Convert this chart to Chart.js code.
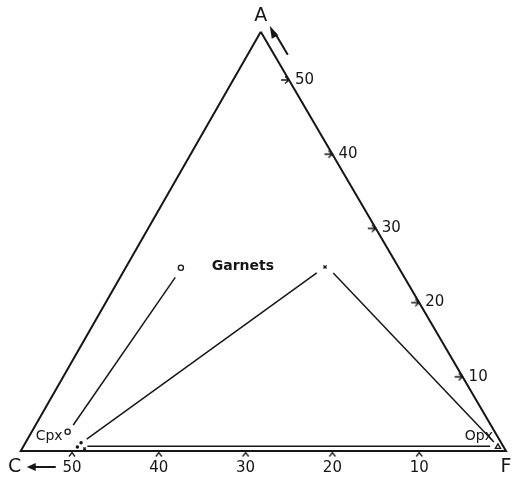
<!DOCTYPE html>
<html>
<head>
<meta charset="utf-8">
<style>
  html, body { margin: 0; padding: 0; background: #fff; }
  #wrap { width: 515px; height: 478px; }
</style>
<script src="https://cdn.jsdelivr.net/npm/chart.js@4/dist/chart.umd.min.js"></script>
</head>
<body>
<div id="wrap"><canvas id="acf" width="515" height="478"></canvas></div>
<script>
// ternary values: A and C percentages (F = rest)
const edgeA = [56.5, 0, 0, 56.5];      // A -> C -> F -> A
const edgeC = [0, 55.9, 0, 0];

const baseTicks = [10, 20, 30, 40, 50];   // C along the C-F side
const sideTicks = [10, 20, 30, 40, 50];   // A along the F-A side

const garnetA = [24.7, 24.8];
const garnetC = [25.1, 8.45];

const cpxA = [2.6];
const cpxC = [49.2];

const tie1A = [23.4, 3.5];
const tie1C = [26.4, 48.1];
const tie2A = [24.0, 1.6];
const tie2C = [9.8, 47.5];
const tie3A = [24.0, 1.2];
const tie3C = [7.9, 0.8];
const tie4A = [0.65, 0.65];
const tie4C = [47.9, 1.5];

const pyxDotsA = [1.1, 0.55];
const pyxDotsC = [48.4, 49.1];
const pyxCrossA = [0.3];
const pyxCrossC = [48.4];
const opxA = [0.55];
const opxC = [0.65];

const ink = '#161616';

function pts(aList, cList) {
    return aList.map(function(a, i) {
        return { x: cList[i] + a / 2, y: a };
    });
}

// small tick glyphs used as point styles
function glyph(w, h, draw) {
    const c = document.createElement('canvas');
    c.width = w; c.height = h;
    const g = c.getContext('2d');
    g.strokeStyle = ink;
    g.lineWidth = 1.3;
    draw(g);
    return c;
}
const baseTickGlyph = glyph(10, 14, function(g) {
    g.beginPath();
    g.moveTo(2, 12.5); g.lineTo(5, 8.5); g.lineTo(8, 12.5);
    g.stroke();
});
const sideTickGlyph = glyph(22, 10, function(g) {
    g.beginPath();
    g.moveTo(3, 5); g.lineTo(11, 5);
    g.moveTo(7, 1.5); g.lineTo(11, 5); g.lineTo(7, 8.5);
    g.stroke();
});

function line(data, width) {
    return {
        type: 'line', data: data, borderColor: ink, borderWidth: width || 1.5,
        pointRadius: 0, fill: false, tension: 0, clip: false
    };
}
function marks(data, style, radius, extra) {
    return Object.assign({
        type: 'scatter', data: data, pointStyle: style, pointRadius: radius,
        pointHoverRadius: radius, borderColor: ink, backgroundColor: '#fff',
        borderWidth: 1.3, clip: false
    }, extra || {});
}

const labelsPlugin = {
    id: 'labels',
    afterDatasetsDraw: function(chart) {
        const ctx = chart.ctx;
        const sx = chart.scales.x, sy = chart.scales.y;
        const px = function(a, c) {
            return [sx.getPixelForValue(c + a / 2), sy.getPixelForValue(a)];
        };
        ctx.save();
        ctx.fillStyle = ink;
        ctx.strokeStyle = ink;

        ctx.font = '19px "DejaVu Sans"';
        ctx.textAlign = 'center';
        ctx.textBaseline = 'middle';
        const apex = px(edgeA[0], edgeC[0]);
        ctx.fillText('A', apex[0], apex[1] - 16);
        const cv = px(edgeA[1], edgeC[1]);
        ctx.fillText('C', cv[0] - 6, cv[1] + 16);
        const fv = px(edgeA[2], edgeC[2]);
        ctx.fillText('F', fv[0], fv[1] + 16);

        // arrows
        ctx.lineWidth = 2;
        ctx.beginPath();
        ctx.moveTo(apex[0] + 27, apex[1] + 23);
        ctx.lineTo(apex[0] + 14, apex[1] + 1);
        ctx.stroke();
        ctx.beginPath();
        ctx.moveTo(apex[0] + 9, apex[1] - 6);
        ctx.lineTo(apex[0] + 17.5, apex[1] + 3.5);
        ctx.lineTo(apex[0] + 11, apex[1] + 7);
        ctx.closePath();
        ctx.fill();

        ctx.beginPath();
        ctx.moveTo(cv[0] + 35, cv[1] + 16);
        ctx.lineTo(cv[0] + 12, cv[1] + 16);
        ctx.stroke();
        ctx.beginPath();
        ctx.moveTo(cv[0] + 6, cv[1] + 16);
        ctx.lineTo(cv[0] + 15, cv[1] + 12);
        ctx.lineTo(cv[0] + 15, cv[1] + 20);
        ctx.closePath();
        ctx.fill();

        // tick labels
        ctx.font = '15px "DejaVu Sans"';
        baseTicks.forEach(function(c) {
            const p = px(0, c);
            ctx.textAlign = 'center';
            ctx.fillText(String(c), p[0], p[1] + 17);
        });
        sideTicks.forEach(function(a) {
            const p = px(a, 0);
            ctx.textAlign = 'left';
            ctx.fillText(String(a), p[0] + 6, p[1]);
        });

        ctx.font = 'bold 14px "DejaVu Sans"';
        ctx.textAlign = 'center';
        const g = px(garnetA[0], garnetC[0]);
        ctx.fillText('Garnets', g[0] + 62, g[1] - 1);
        ctx.font = '14px "DejaVu Sans"';
        const cp = px(cpxA[0], cpxC[0]);
        ctx.textAlign = 'right';
        ctx.fillText('Cpx', cp[0] - 5, cp[1] + 5);
        const op = px(opxA[0], opxC[0]);
        ctx.fillText('Opx', op[0] - 5, op[1] - 11);
        ctx.restore();
    }
};

new Chart(document.getElementById('acf'), {
    type: 'scatter',
    data: {
        datasets: [
            line(pts(edgeA, edgeC), 2),
            line(pts(tie1A, tie1C)),
            line(pts(tie2A, tie2C)),
            line(pts(tie3A, tie3C)),
            line(pts(tie4A, tie4C)),
            marks(pts(baseTicks.map(function() { return 0; }), baseTicks), baseTickGlyph, 5),
            marks(pts(sideTicks, sideTicks.map(function() { return 0; })), sideTickGlyph, 5),
            marks(pts([garnetA[0]], [garnetC[0]]), 'circle', 2.6),
            marks(pts([garnetA[1]], [garnetC[1]]), 'crossRot', 2.2),
            marks(pts(cpxA, cpxC), 'circle', 2.6),
            marks(pts(pyxDotsA, pyxDotsC), 'circle', 1.1, { backgroundColor: ink }),
            marks(pts(pyxCrossA, pyxCrossC), 'crossRot', 1.8),
            marks(pts(opxA, opxC), 'triangle', 3)
        ]
    },
    options: {
        responsive: false,
        animation: false,
        events: [],
        layout: { padding: 0, autoPadding: false },
        plugins: { legend: { display: false }, tooltip: { enabled: false } },
        scales: {
            x: { type: 'linear', reverse: true, min: -1.037, max: 58.29, display: false },
            y: { type: 'linear', min: -3.64, max: 60.78, display: false }
        }
    },
    plugins: [labelsPlugin]
});
</script>
</body>
</html>
